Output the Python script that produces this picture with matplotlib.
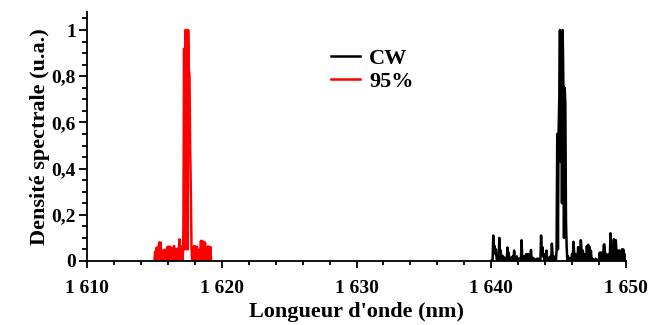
import numpy as np
import matplotlib
matplotlib.use("Agg")
import matplotlib.pyplot as plt
from matplotlib.ticker import MultipleLocator, FuncFormatter

plt.rcParams['font.family'] = ['Liberation Serif', 'DejaVu Serif']
plt.rcParams['font.weight'] = 'bold'
plt.rcParams['axes.labelweight'] = 'bold'

# wavelength grids (nm)
wl_95 = np.arange(85) * 0.05 + 1615.0
wl_cw = np.arange(201) * 0.05 + 1640.0

# normalised spectral density, 95 % case (red)
dens_95 = [
    0.0, 0.04, 0.0, 0.057, 0.0, 0.06, 0.0, 0.08, 0.0, 0.08,
    0.0, 0.045, 0.0, 0.044, 0.0, 0.048, 0.0, 0.048, 0.0, 0.06,
    0.0, 0.062, 0.0, 0.062, 0.0, 0.054, 0.0, 0.054, 0.0, 0.065,
    0.0, 0.05, 0.0, 0.05, 0.0, 0.054, 0.0, 0.094, 0.0, 0.062,
    0.0, 0.062, 0.0, 0.15, 0.92, 0.05, 1.0, 0.33, 1.0, 0.05,
    1.0, 0.83, 0.8, 0.49, 0.3, 0.058, 0.0, 0.058, 0.0, 0.065,
    0.0, 0.062, 0.0, 0.062, 0.0, 0.048, 0.0, 0.048, 0.0, 0.087,
    0.0, 0.087, 0.0, 0.08, 0.0, 0.08, 0.0, 0.058, 0.0, 0.062,
    0.0, 0.062, 0.0, 0.06, 0.0,
]

# normalised spectral density, CW case (black)
dens_cw = [
    0.0, 0.0, 0.0, 0.11, 0.06, 0.065, 0.03, 0.05, 0.01, 0.0,
    0.015, 0.0, 0.10, 0.03, 0.045, 0.01, 0.0, 0.022, 0.0, 0.0,
    0.015, 0.0, 0.01, 0.0, 0.058, 0.02, 0.036, 0.0, 0.01, 0.0,
    0.015, 0.0, 0.02, 0.0, 0.045, 0.0, 0.015, 0.0, 0.02, 0.0,
    0.01, 0.0, 0.01, 0.0, 0.0, 0.09, 0.02, 0.02, 0.0, 0.0,
    0.022, 0.0, 0.03, 0.0, 0.0, 0.03, 0.0, 0.02, 0.0, 0.048,
    0.0, 0.015, 0.0, 0.0, 0.01, 0.0, 0.0, 0.0, 0.01, 0.0,
    0.01, 0.0, 0.0, 0.0, 0.11, 0.04, 0.06, 0.02, 0.03, 0.0,
    0.03, 0.0, 0.045, 0.0, 0.015, 0.0, 0.01, 0.0, 0.02, 0.0,
    0.075, 0.03, 0.0, 0.02, 0.0, 0.01, 0.0, 0.045, 0.55, 0.05,
    0.56, 0.7, 1.0, 0.43, 0.99, 0.25, 1.0, 0.8, 0.1, 0.75,
    0.68, 0.17, 0.06, 0.0, 0.02, 0.0, 0.01, 0.0, 0.01, 0.0,
    0.03, 0.0, 0.083, 0.04, 0.0, 0.03, 0.0, 0.02, 0.0, 0.06,
    0.0, 0.06, 0.0, 0.09, 0.05, 0.0, 0.045, 0.0, 0.03, 0.0,
    0.02, 0.0, 0.065, 0.0, 0.07, 0.03, 0.06, 0.0, 0.045, 0.0,
    0.01, 0.0, 0.005, 0.0, 0.0, 0.01, 0.0, 0.0, 0.005, 0.0,
    0.0, 0.036, 0.0, 0.036, 0.0, 0.036, 0.0, 0.07, 0.072, 0.03,
    0.0, 0.03, 0.0, 0.01, 0.0, 0.03, 0.0, 0.12, 0.05, 0.0,
    0.06, 0.0, 0.094, 0.04, 0.0, 0.09, 0.03, 0.0, 0.045, 0.0,
    0.045, 0.0, 0.02, 0.0, 0.05, 0.0, 0.05, 0.0, 0.03, 0.0,
    0.0,
]

fig = plt.figure(figsize=(6.5, 3.25), dpi=100)
ax = fig.add_axes([0.134, 0.197, 0.829, 0.766])

ax.plot(wl_cw, dens_cw, color='black', lw=1.8, label='CW')
ax.plot(wl_95, dens_95, color='red', lw=1.8, label='95%')

ax.set_xlim(1610, 1650)
ax.set_ylim(0, 1.078)
ax.spines['top'].set_visible(False)
ax.spines['right'].set_visible(False)
for s in ('left', 'bottom'):
    ax.spines[s].set_linewidth(1.3)

ax.xaxis.set_major_locator(MultipleLocator(10))
ax.xaxis.set_minor_locator(MultipleLocator(2))
ax.yaxis.set_major_locator(MultipleLocator(0.2))
ax.yaxis.set_minor_locator(MultipleLocator(0.05))
ax.xaxis.set_major_formatter(FuncFormatter(lambda v, p: f"{int(round(v)):,}".replace(",", " ")))
ax.yaxis.set_major_formatter(FuncFormatter(lambda v, p: f"{v:g}".replace(".", ",")))
ax.tick_params(which='both', direction='out', width=1.3, labelsize=14)
ax.tick_params(axis='x', which='major', length=5, pad=9)
ax.tick_params(axis='x', which='minor', length=2.6)
ax.tick_params(axis='y', which='major', length=5.5, pad=2.5)
ax.tick_params(axis='y', which='minor', length=3.5)

ax.set_xlabel("Longueur d'onde (nm)", fontsize=16, labelpad=3)
ax.set_ylabel("Densité spectrale (u.a.)", fontsize=16, labelpad=1)

ax.legend(loc='upper left', bbox_to_anchor=(0.416, 0.935), frameon=False,
          fontsize=16, handlelength=1.3, handletextpad=0.4, labelspacing=0.1)

fig.savefig('out.png', dpi=100)
